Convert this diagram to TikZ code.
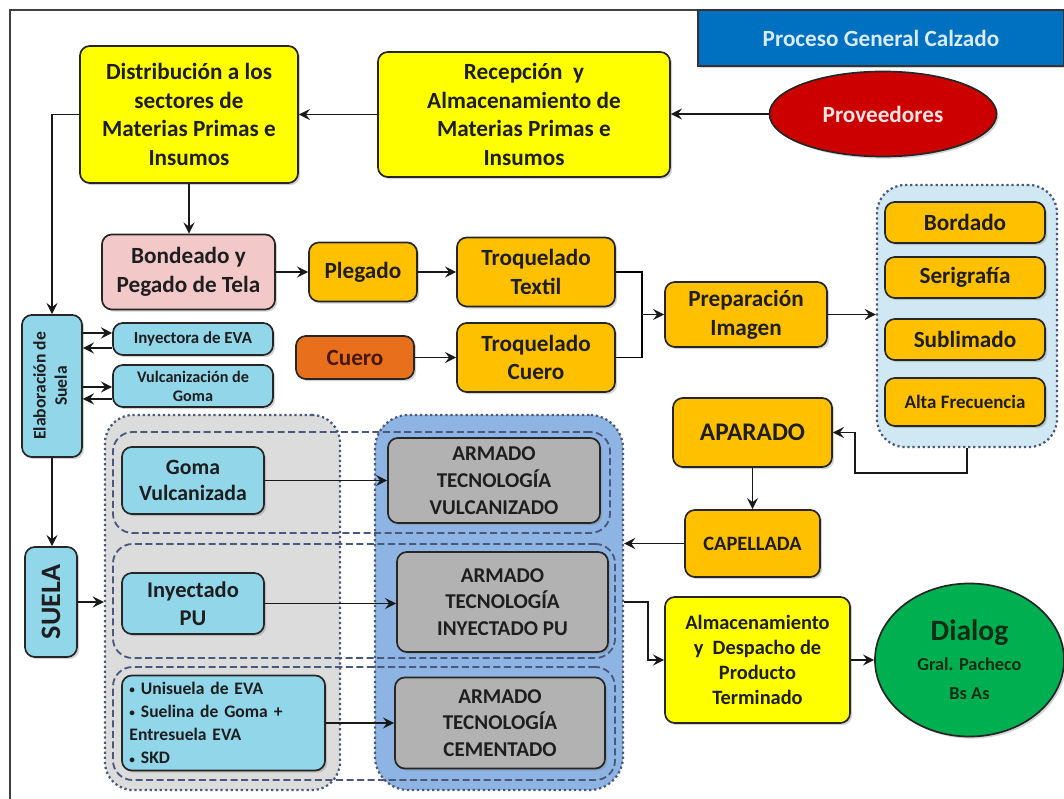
\documentclass[tikz,border=0pt]{standalone}
\usepackage{fontspec}
\setmainfont{Carlito}
\usepackage{xcolor}
\usetikzlibrary{arrows.meta,shapes.geometric,shadows}

\definecolor{ylw}{RGB}{255,255,0}
\definecolor{gold}{RGB}{255,192,0}
\definecolor{pinkish}{RGB}{242,200,200}
\definecolor{leather}{RGB}{232,112,28}
\definecolor{skyb}{RGB}{146,214,234}
\definecolor{armgray}{RGB}{178,178,178}
\definecolor{grpgray}{RGB}{220,220,220}
\definecolor{grpblue}{RGB}{141,180,226}
\definecolor{grplight}{RGB}{208,232,243}
\definecolor{titleblue}{RGB}{0,112,192}
\definecolor{provred}{RGB}{205,0,0}
\definecolor{dialgreen}{RGB}{0,176,80}
\definecolor{txt}{RGB}{30,30,30}
\definecolor{dotc}{RGB}{75,88,125}

\newcommand{\smallbul}{{\fontsize{8}{8}\selectfont\raisebox{0.5pt}{•}}}

\begin{document}
\begin{tikzpicture}[x=0.025cm,y=-0.025cm,
  box/.style={draw=black!85, line width=1.2pt, rounded corners=7pt, align=center,
    inner sep=1pt, text=txt, drop shadow={opacity=0.35,shadow xshift=1.5pt,shadow yshift=-1.5pt}},
  bigtxt/.style={font=\fontsize{16.5}{20.5}\selectfont\bfseries},
  ybox/.style={box, bigtxt, fill=ylw},
  obox/.style={box, bigtxt, fill=gold},
  bbox/.style={box, fill=skyb},
  abox/.style={box, fill=armgray, font=\fontsize{15}{19}\selectfont\bfseries},
  grp/.style={draw=dotc, line width=1.6pt, dotted, rounded corners=20pt},
  rowbox/.style={draw=dotc, line width=1.3pt, dash pattern=on 5pt off 2.5pt, rounded corners=14pt},
  arr/.style={-{Stealth[length=8pt,width=8pt,inset=3pt]}, line width=1pt, black!90}]

\useasboundingbox (0,0) rectangle (1064,799);

% Frame and title
\draw[black!75, line width=0.8pt] (10,799) -- (10,10) -- (698,10);
\node[draw=black!80, line width=1pt, fill=titleblue, minimum width=9.15cm, minimum height=1.4cm,
  text={rgb,255:red,215;green,235;blue,250}, font=\fontsize{16.5}{20}\selectfont\bfseries,
  drop shadow={opacity=0.35,shadow xshift=1.5pt,shadow yshift=-1.5pt}] (title) at (881,38) {Proceso General Calzado};

% Groups
\node[grp, fill=grpgray, minimum width=5.875cm, minimum height=9.375cm] (gray) at (222.5,602.5) {};
\node[grp, fill=grpblue, minimum width=6.2cm, minimum height=9.375cm, rounded corners=24pt] (blue) at (499,602.5) {};
\node[rowbox, minimum width=12.425cm, minimum height=2.525cm] (row1) at (361.5,482.5) {};
\node[rowbox, minimum width=12.55cm, minimum height=2.85cm] (row2) at (364,601) {};
\node[rowbox, minimum width=12.55cm, minimum height=2.825cm] (row3) at (364,723.5) {};
\node[grp, fill=grplight, minimum width=4.5cm, minimum height=6.55cm] (tec) at (967,316) {};

% Top row
\node[box, ellipse, fill=provred, minimum width=5.675cm, minimum height=2.125cm, bigtxt,
  text={rgb,255:red,255;green,228;blue,228}] (prov) at (883,114) {Proveedores};
\node[ybox, minimum width=7.3cm, minimum height=3.125cm] (recep) at (524,114.5)
  {Recepción~ y\\Almacenamiento de\\Materias Primas e\\Insumos};
\node[ybox, minimum width=5.45cm, minimum height=3.425cm] (dist) at (189,114.5)
  {Distribución a los\\sectores de\\Materias Primas e\\Insumos};

% Textile line
\node[box, bigtxt, fill=pinkish, minimum width=4.325cm, minimum height=1.875cm] (bond) at (188.5,272)
  {Bondeado y\\Pegado de Tela};
\node[obox, minimum width=2.7cm, minimum height=1.475cm] (pleg) at (363,272) {Plegado};
\node[obox, minimum width=3.95cm, minimum height=1.725cm] (ttex) at (536,272) {Troquelado\\Textil};
\node[box, bigtxt, fill=leather, text={rgb,255:red,70;green,25;blue,5}, minimum width=2.95cm,
  minimum height=1.075cm] (cuero) at (355,357.5) {Cuero};
\node[obox, minimum width=3.95cm, minimum height=1.725cm] (tcue) at (536,357.5) {Troquelado\\Cuero};
\node[obox, minimum width=4.05cm, minimum height=1.625cm] (prep) at (746,314.5) {Preparación\\Imagen};
\coordinate (jn) at (642,314.5);

% Image techniques
\node[obox, minimum width=4cm, minimum height=1.025cm] (bord) at (965,222.5) {Bordado};
\node[obox, minimum width=4cm, minimum height=1.025cm] (seri) at (965,277.5) {Serigrafía};
\node[obox, minimum width=4cm, minimum height=1.025cm] (subl) at (965,339.5) {Sublimado};
\node[obox, minimum width=4cm, minimum height=1.2cm, font=\fontsize{13.5}{16}\selectfont\bfseries] (alta) at (965,402) {Alta Frecuencia};

% Upper and finish
\node[obox, minimum width=3.975cm, minimum height=1.725cm, font=\fontsize{18}{22}\selectfont\bfseries] (apar) at (752.5,432.5) {APARADO};
\node[obox, minimum width=3.375cm, minimum height=1.675cm, font=\fontsize{14.5}{18}\selectfont\bfseries] (cape) at (752.5,543.5) {CAPELLADA};
\node[box, fill=ylw, minimum width=4.625cm, minimum height=3.15cm, font=\fontsize{14.5}{17.8}\selectfont\bfseries] (alm) at (757.5,660)
  {Almacenamiento\\y~ Despacho de\\Producto\\Terminado};
\node[box, ellipse, fill=dialgreen, minimum width=4.725cm, minimum height=3.825cm, inner sep=0pt,
  text={rgb,255:red,15;green,45;blue,20}, font=\fontsize{21}{21}\selectfont\bfseries] (dial) at (969.5,660)
  {Dialog\\{\fontsize{13}{17}\selectfont Gral. Pacheco}\\{\fontsize{13}{17}\selectfont Bs As}};

% Sole
\node[bbox, minimum width=1.5cm, minimum height=3.55cm, font=\fontsize{12.5}{15}\selectfont\bfseries] (elab) at (52,386)
  {\rotatebox{90}{\begin{tabular}{@{}c@{}}Elaboración de\\Suela\end{tabular}}};
\node[bbox, minimum width=4cm, minimum height=0.8cm, font=\fontsize{12}{14}\selectfont\bfseries] (iny) at (193,339) {Inyectora de EVA};
\node[bbox, minimum width=4cm, minimum height=1.05cm, font=\fontsize{11.5}{13.5}\selectfont\bfseries] (vulc) at (193,386) {Vulcanización de\\Goma};
\node[bbox, minimum width=1.3cm, minimum height=2.75cm, font=\fontsize{20}{24}\selectfont\bfseries] (suela) at (51,602)
  {\rotatebox{90}{SUELA}};

% Sole types and assembly
\node[bbox, minimum width=3.55cm, minimum height=1.675cm, font=\fontsize{15.5}{19}\selectfont\bfseries] (goma) at (193,480.5) {Goma\\Vulcanizada};
\node[bbox, minimum width=3.55cm, minimum height=1.525cm, font=\fontsize{16}{19.5}\selectfont\bfseries] (inypu) at (193,603.5) {Inyectado\\PU};
\node[bbox, minimum width=5.075cm, minimum height=2.375cm, text width=4.7cm, align=left,
  font=\fontsize{12.5}{16.5}\selectfont\bfseries] (bull) at (223.5,723)
  {\smallbul\ Unisuela de EVA\\\smallbul\ Suelina de Goma +\\Entresuela EVA\\\smallbul\ SKD};
\node[abox, minimum width=5.3cm, minimum height=2.125cm] (avulc) at (494,480.5) {ARMADO\\TECNOLOGÍA\\VULCANIZADO};
\node[abox, minimum width=5.275cm, minimum height=2.5cm] (ainy) at (502.5,602) {ARMADO\\TECNOLOGÍA\\INYECTADO PU};
\node[abox, minimum width=5.25cm, minimum height=2.275cm] (acem) at (500,723) {ARMADO\\TECNOLOGÍA\\CEMENTADO};

% Connectors
\draw[arr] (prov.west) -- (prov.west -| recep.east);
\draw[arr] (recep.west) -- (recep.west -| dist.east);
\draw[arr] (dist.west) -| (elab.north);
\draw[arr] (dist.south) -- (dist.south |- bond.north);
\draw[arr] (bond.east) -- (pleg.west);
\draw[arr] (pleg.east) -- (ttex.west);
\draw[arr] (cuero.east) -- (tcue.west);
\draw[line width=1pt] (ttex.east) -| (jn);
\draw[line width=1pt] (tcue.east) -| (jn);
\draw[arr] (jn) -- (prep.west);
\draw[arr] (prep.east) -- (prep.east -| tec.west);
\draw[arr] (tec.south) -- ++(0,25) -- ++(-112,0) |- (apar.east);
\draw[arr] (apar.south) -- (cape.north);
\draw[arr] (cape.west) -- (cape.west -| blue.east);
\draw[arr] (blue.east |- ainy.center) -- ++(24,0) |- (alm.west);
\draw[arr] (alm.east) -- (dial.west);

% Sole connectors
\path ([yshift=4.3pt]iny.west) coordinate (i1) ([yshift=-6.4pt]iny.west) coordinate (i2);
\path ([yshift=-0.7pt]vulc.west) coordinate (v1) ([yshift=-9.2pt]vulc.west) coordinate (v2);
\draw[arr] (i1 -| elab.east) -- (i1);
\draw[arr] (i2) -- (i2 -| elab.east);
\draw[arr] (v1 -| elab.east) -- (v1);
\draw[arr] (v2) -- (v2 -| elab.east);
\draw[arr] (elab.south) -- (elab.south |- suela.north);
\draw[arr] (suela.east) -- (suela.east -| gray.west);
\draw[arr] (goma.east) -- (avulc.west);
\draw[arr] (inypu.east) -- (inypu.east -| ainy.west);
\draw[arr] (bull.east) -- (acem.west);
\end{tikzpicture}
\end{document}
